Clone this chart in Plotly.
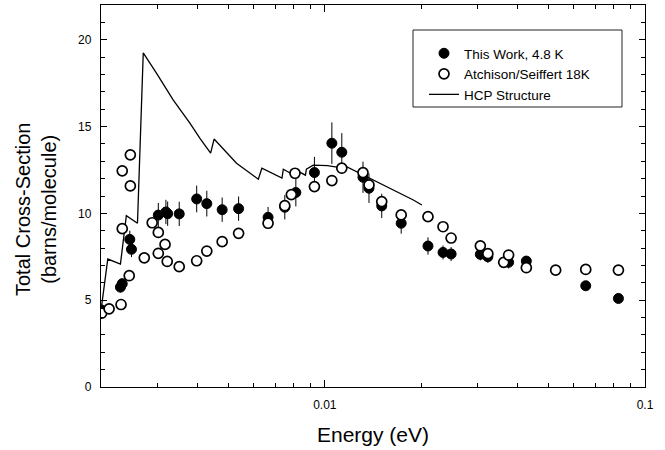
import math
import plotly.graph_objects as go

# ---- data ----
this_work_energy = [0.00201, 0.00230, 0.00233, 0.00246, 0.00249, 0.00302, 0.00319, 0.00323,
                    0.00351, 0.00398, 0.00428, 0.00478, 0.00538, 0.00665, 0.00750, 0.00812,
                    0.00928, 0.01052, 0.01130, 0.01316, 0.01374, 0.01506, 0.01732, 0.02100,
                    0.02340, 0.02480, 0.03060, 0.03230, 0.03750, 0.04260, 0.06530, 0.08260]
this_work_sigma = [4.43, 5.75, 5.95, 8.50, 7.93, 9.90, 10.08, 9.98,
                   9.97, 10.83, 10.56, 10.21, 10.27, 9.77, 10.35, 11.20,
                   12.35, 14.04, 13.52, 12.08, 11.45, 10.43, 9.43, 8.12,
                   7.75, 7.66, 7.64, 7.50, 7.18, 7.25, 5.83, 5.10]
this_work_err = [0.3, 0.3, 0.3, 0.5, 0.45, 0.7, 0.7, 0.7,
                 0.7, 0.77, 0.74, 0.7, 0.7, 0.6, 0.7, 0.8,
                 0.9, 1.2, 1.1, 0.9, 0.85, 0.7, 0.6, 0.5,
                 0.4, 0.4, 0.35, 0.35, 0.35, 0.3, 0.15, 0.1]

atchison_energy = [0.00201, 0.00212, 0.00231, 0.00233, 0.00233, 0.00245, 0.00247, 0.00247,
                   0.00273, 0.00289, 0.00302, 0.00302, 0.00317, 0.00322, 0.00351, 0.00398,
                   0.00428, 0.00478, 0.00538, 0.00665, 0.00750, 0.00786, 0.00807, 0.00928,
                   0.01052, 0.01130, 0.01316, 0.01374, 0.01506, 0.01732, 0.02100, 0.02340,
                   0.02480, 0.03060, 0.03230, 0.03620, 0.03750, 0.04260, 0.05260, 0.06530,
                   0.08260]
atchison_sigma = [4.25, 4.50, 4.75, 9.12, 12.45, 6.41, 13.37, 11.58,
                  7.44, 9.46, 8.90, 7.70, 8.21, 7.23, 6.93, 7.27,
                  7.83, 8.37, 8.85, 9.43, 10.44, 11.08, 12.31, 11.54,
                  11.89, 12.60, 12.35, 11.64, 10.68, 9.91, 9.81, 9.23,
                  8.58, 8.13, 7.68, 7.18, 7.60, 6.87, 6.73, 6.77,
                  6.73]

hcp_energy = [0.00201, 0.00210, 0.00230, 0.00240, 0.00260, 0.00271, 0.00298, 0.00321,
              0.00336, 0.00379, 0.00408, 0.00440, 0.00451, 0.00530, 0.00620, 0.00636,
              0.00735, 0.00742, 0.00815, 0.00820, 0.00870, 0.00876, 0.00920, 0.01020,
              0.01090, 0.01140, 0.01320, 0.01490, 0.01680, 0.01890, 0.02010]
hcp_sigma = [4.70, 7.37, 7.08, 9.87, 9.43, 19.24, 18.08, 17.12,
             16.54, 15.20, 14.30, 13.47, 14.28, 12.89, 11.97, 12.60,
             12.03, 12.54, 12.12, 12.45, 12.20, 12.55, 12.78, 12.75,
             12.66, 12.79, 12.21, 11.73, 11.25, 10.77, 10.48]

x_major_ticks = [0.01, 0.1]
x_major_labels = ["0.01", "0.1"]
x_minor_ticks = [0.003, 0.004, 0.005, 0.006, 0.007, 0.008, 0.009,
                 0.02, 0.03, 0.04, 0.05, 0.06, 0.07, 0.08, 0.09]

FONT = "Liberation Sans, Arial, sans-serif"

fig = go.Figure()

fig.add_trace(go.Scatter(
    x=hcp_energy, y=hcp_sigma, mode="lines", name="HCP Structure",
    line=dict(color="black", width=1.3), legendrank=3,
))
fig.add_trace(go.Scatter(
    x=this_work_energy, y=this_work_sigma, mode="markers", name="This Work, 4.8 K",
    marker=dict(symbol="circle", size=10, color="black", line=dict(color="black", width=1)),
    error_y=dict(type="data", array=this_work_err, visible=True, color="black",
                 thickness=1, width=0),
    legendrank=1,
))
fig.add_trace(go.Scatter(
    x=atchison_energy, y=atchison_sigma, mode="markers", name="Atchison/Seiffert 18K",
    marker=dict(symbol="circle", size=10, color="white", line=dict(color="black", width=1.7)),
    legendrank=2,
))

# plot-area geometry helpers (paper coords)
L, R, T, B = 101, 20, 5, 63
W, H = 665, 450
pw, ph = W - L - R, H - T - B


def px2x(px):
    return (px - L) / pw


def py2y(py):
    return (H - B - py) / ph


fig.update_layout(
    width=W, height=H,
    margin=dict(l=L, r=R, t=T, b=B),
    paper_bgcolor="white", plot_bgcolor="white",
    font=dict(family=FONT, color="black", size=11),
    showlegend=True,
    legend=dict(
        x=px2x(424), y=py2y(38), xanchor="left", yanchor="top",
        bgcolor="rgba(0,0,0,0)", borderwidth=0,
        font=dict(family=FONT, size=13.5, color="black"),
        traceorder="normal",
    ),
    xaxis=dict(
        type="log", range=[math.log10(0.002), -1],
        showline=True, linecolor="black", linewidth=1.3, mirror="ticks",
        ticks="inside", ticklen=7, tickwidth=1.3, tickcolor="black",
        tickmode="array", tickvals=x_major_ticks, ticktext=x_major_labels,
        ticklabelstandoff=6,
        minor=dict(tickmode="array", tickvals=x_minor_ticks, ticks="inside",
                   ticklen=4, tickwidth=1.2, tickcolor="black", showgrid=False),
        showgrid=False, zeroline=False,
        tickfont=dict(family=FONT, size=12),
    ),
    yaxis=dict(
        range=[0, 22],
        showline=True, linecolor="black", linewidth=1.3, mirror="ticks",
        ticks="inside", ticklen=6, tickwidth=1.3, tickcolor="black",
        tick0=0, dtick=5, ticklabelstandoff=6,
        minor=dict(tick0=0, dtick=1, ticks="inside", ticklen=4, tickwidth=1.2,
                   tickcolor="black", showgrid=False),
        showgrid=False, zeroline=False,
        tickfont=dict(family=FONT, size=12),
    ),
    shapes=[dict(type="rect", xref="paper", yref="paper",
                 x0=px2x(413), x1=px2x(622), y0=py2y(107), y1=py2y(30),
                 line=dict(color="#222222", width=1), fillcolor="rgba(0,0,0,0)",
                 layer="above")],
    annotations=[
        dict(text="Total Cross-Section<br>(barns/molecule)", textangle=-90,
             xref="paper", yref="paper", x=px2x(36), y=py2y(210),
             xanchor="center", yanchor="middle", showarrow=False,
             font=dict(family=FONT, size=20, color="black")),
        dict(text="Energy (eV)", xref="paper", yref="paper",
             x=px2x(373), y=py2y(435), xanchor="center", yanchor="middle",
             showarrow=False, font=dict(family=FONT, size=21, color="black")),
    ],
)

fig.write_html("out.html", config={"displayModeBar": False},
               post_script="document.body.style.margin='0';document.body.style.overflow='hidden';")
